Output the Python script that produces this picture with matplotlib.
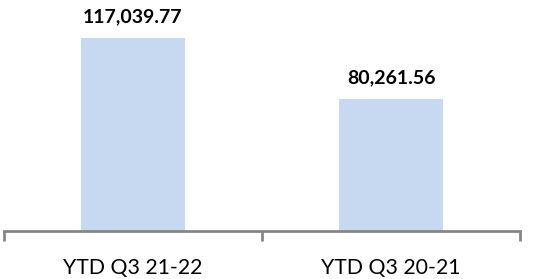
import matplotlib
matplotlib.use("Agg")
import matplotlib.pyplot as plt

categories = ["YTD Q3 21-22", "YTD Q3 20-21"]
values = [117039.77, 80261.56]
value_labels = ["117,039.77", "80,261.56"]

fig = plt.figure(figsize=(5.35, 2.79), dpi=100)
ax = fig.add_axes([4/535, 48/279, 516/535, 231/279])
x = list(range(len(categories)))
bars = ax.bar(x, values, width=0.40, color="#C6D9F1")
ax.set_xlim(-0.5, 1.5)
ax.set_ylim(0, 140100)
for s in ["top", "right", "left"]:
    ax.spines[s].set_visible(False)
ax.spines["bottom"].set_color("#868686")
ax.spines["bottom"].set_linewidth(2)
ax.set_yticks([])
ax.set_xticks([-0.5, 0.5, 1.5])
ax.set_xticklabels([])
ax.tick_params(axis="x", length=7, width=2, color="#868686")
for xi, c in zip(x, categories):
    ax.annotate(c, (xi, 0), xytext=(0, -26.5), textcoords="offset points",
                ha="center", va="center", fontsize=15.3, family="Lato", color="#000000")
for b, lab in zip(bars, value_labels):
    ax.annotate(lab, (b.get_x() + b.get_width()/2, b.get_height()), xytext=(0, 15),
                textcoords="offset points", ha="center", va="center",
                fontsize=14, family="Lato", fontweight="bold", color="#000000")
fig.savefig("out.png", dpi=100)
